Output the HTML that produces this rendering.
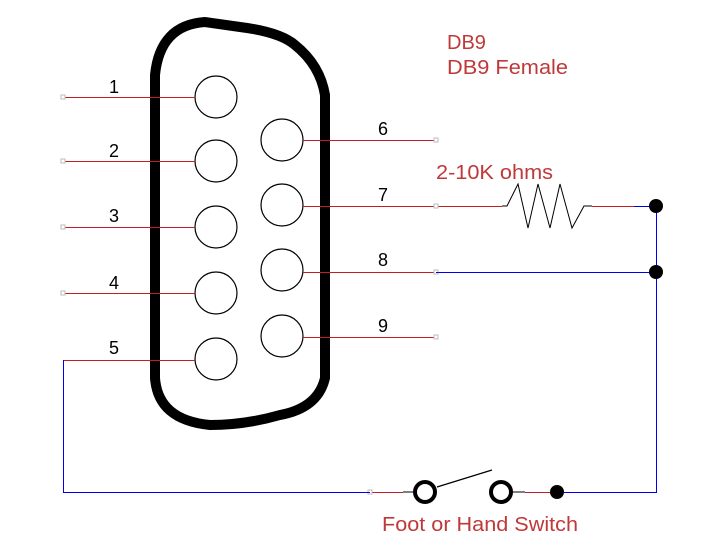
<!DOCTYPE html>
<html><head><style>html,body{margin:0;padding:0;background:#fff}svg{display:block}text{font-family:"Liberation Sans",sans-serif}</style></head>
<body>
<svg width="721" height="557" viewBox="0 0 721 557" xmlns="http://www.w3.org/2000/svg">
<path d="M155,378 L155,75 Q160,25 205,22 L240,27 Q280,32 295,45 Q320,65 325,95 L325,378 Q318,408 280,415 Q245,425 210,425 Q158,420 155,378 Z" fill="none" stroke="#000" stroke-width="10"/>
<g fill="none" stroke="#000" stroke-width="1.2">
<circle cx="216" cy="97" r="21"/><circle cx="216" cy="161" r="21"/><circle cx="216" cy="227" r="21"/><circle cx="216" cy="293" r="21"/><circle cx="216" cy="359" r="21"/>
<circle cx="282" cy="140" r="21"/><circle cx="282" cy="205" r="21"/><circle cx="282" cy="270" r="21"/><circle cx="282" cy="336" r="21"/>
</g>
<g stroke="#c02020" stroke-width="1" shape-rendering="crispEdges">
<line x1="63" y1="97.5" x2="195" y2="97.5"/><line x1="63" y1="161.5" x2="195" y2="161.5"/><line x1="63" y1="227.5" x2="195" y2="227.5"/><line x1="63" y1="293.5" x2="195" y2="293.5"/><line x1="63" y1="360.5" x2="195" y2="360.5"/>
<line x1="303" y1="140.5" x2="436" y2="140.5"/><line x1="303" y1="206.5" x2="502" y2="206.5"/><line x1="303" y1="272.5" x2="436" y2="272.5"/><line x1="303" y1="337.5" x2="436" y2="337.5"/>
<line x1="592" y1="206.5" x2="634" y2="206.5"/>
<line x1="370" y1="492.5" x2="403" y2="492.5"/><line x1="525" y1="492.5" x2="550" y2="492.5"/>
</g>
<g fill="#fff" stroke="#bbb" stroke-width="1">
<rect x="61" y="95" width="4" height="4"/><rect x="61" y="159" width="4" height="4"/><rect x="61" y="225" width="4" height="4"/><rect x="61" y="291" width="4" height="4"/>
<rect x="434" y="138" width="4" height="4"/><rect x="434" y="204" width="4" height="4"/><rect x="434" y="270" width="4" height="4"/><rect x="434" y="335" width="4" height="4"/>
<rect x="368" y="490" width="4" height="4"/>
</g>
<g fill="none" stroke="#0000ee" stroke-width="1.3" shape-rendering="crispEdges">
<polyline points="63.5,360 63.5,492.5 370,492.5"/>
<polyline points="436,272.5 656,272.5"/>
<polyline points="634,206.5 656.5,206.5 656.5,492.5 557,492.5"/>
</g>
<polyline points="502,206 507,206 518,184 528,228 538,184 550,228 560,184 572,228 584,206 592,206" fill="none" stroke="#000" stroke-width="1"/>
<line x1="403" y1="492" x2="414" y2="492" stroke="#000"/><line x1="512" y1="492" x2="525" y2="492" stroke="#000"/>
<circle cx="425" cy="492" r="10" fill="none" stroke="#000" stroke-width="4"/>
<circle cx="501" cy="492" r="10" fill="none" stroke="#000" stroke-width="4"/>
<line x1="437" y1="487" x2="492" y2="470" stroke="#000" stroke-width="1.2"/>
<circle cx="557" cy="492" r="7" fill="#000"/>
<circle cx="656" cy="206" r="7" fill="#000"/>
<circle cx="656" cy="272" r="7" fill="#000"/>
<g font-size="18" fill="#000">
<text x="109" y="93">1</text><text x="109" y="157">2</text><text x="109" y="222">3</text><text x="109" y="289">4</text><text x="109" y="354">5</text>
<text x="378" y="135">6</text><text x="378" y="201">7</text><text x="378" y="266">8</text><text x="378" y="332">9</text>
</g>
<g font-size="20" fill="#c03838">
<text x="447" y="49">DB9</text>
<text x="447" y="74" textLength="121" lengthAdjust="spacingAndGlyphs">DB9 Female</text>
<text x="436" y="179" textLength="117" lengthAdjust="spacingAndGlyphs">2-10K ohms</text>
<text x="382" y="531" textLength="196" lengthAdjust="spacingAndGlyphs">Foot or Hand Switch</text>
</g>
</svg>
</body></html>
